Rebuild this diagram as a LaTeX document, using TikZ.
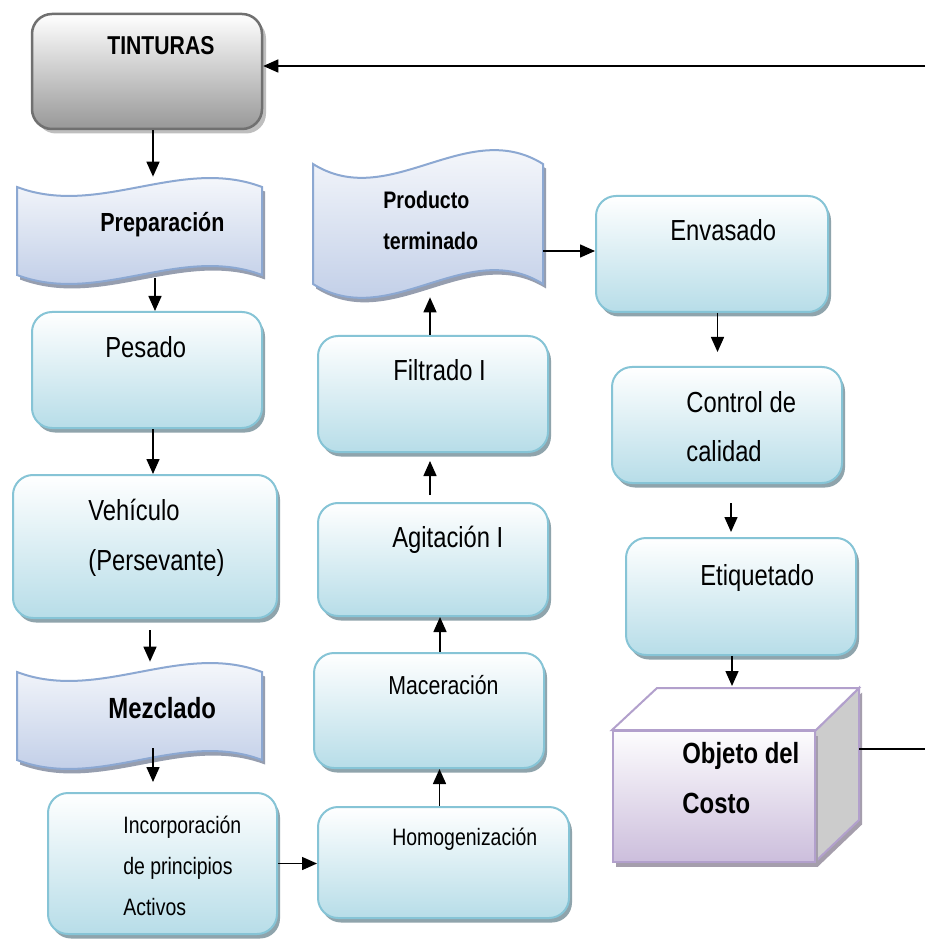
\documentclass[tikz,border=0pt]{standalone}
\usepackage{fontspec}
\setmainfont[FakeStretch=0.82]{Liberation Sans}
\usetikzlibrary{arrows.meta,shadows,fit}

\definecolor{boxline}{RGB}{134,196,214}
\definecolor{boxfill}{RGB}{183,221,232}
\definecolor{boxshad}{RGB}{143,164,172}
\definecolor{tapeline}{RGB}{140,168,210}
\definecolor{tapefill}{RGB}{184,199,228}
\definecolor{tapeshad}{RGB}{150,158,175}
\definecolor{greyline}{RGB}{112,112,112}
\definecolor{greyfill}{RGB}{152,152,152}
\definecolor{greyshad}{RGB}{190,190,190}
\definecolor{cubeline}{RGB}{178,160,204}
\definecolor{cubefill}{RGB}{204,190,220}
\definecolor{cubeside}{RGB}{204,204,204}
\definecolor{cubeshad}{RGB}{165,158,172}

\newcommand\fsbig{\fontsize{16.5}{19}\selectfont}
\newcommand\fsmid{\fontsize{14.8}{17}\selectfont}
\newcommand\fssmall{\fontsize{13.5}{16}\selectfont}

\tikzset{
  x=0.2mm, y=-0.2mm,
  procbox/.style={draw=boxline, line width=0.4mm, rounded corners=4mm,
    top color=white, bottom color=boxfill, inner sep=0pt,
    drop shadow={shadow xshift=0.6mm, shadow yshift=-0.9mm, fill=boxshad, opacity=1}},
  greybox/.style={draw=greyline, line width=0.5mm, rounded corners=4mm,
    top color=white, bottom color=greyfill, inner sep=0pt,
    drop shadow={shadow xshift=0.8mm, shadow yshift=-0.9mm, fill=greyshad, opacity=1}},
  tapeshape/.style={draw=tapeline, line width=0.4mm,
    top color=white, bottom color=tapefill,
    drop shadow={shadow xshift=0.6mm, shadow yshift=-0.9mm, fill=tapeshad, opacity=1}},
  area/.style={inner sep=0pt},
  lbl/.style={anchor=base west, inner sep=0pt, font=\fsbig},
  lblb/.style={anchor=base west, inner sep=0pt, font=\fsbig\bfseries},
  arr/.style={line width=0.3mm, -{Triangle[length=3mm,width=2.6mm]}},
  plain/.style={line width=0.3mm},
}

\begin{document}
\begin{tikzpicture}
\useasboundingbox[fill=white] (0,0) rectangle (925,940);

% ---- grey header ----
\node[greybox, fit={(32,14) (262,129)}] (tint) {};
\node[lblb, font=\fontsize{14.7}{17}\selectfont\bfseries] (tintT) at (107,55) {TINTURAS};

% ---- tape shapes ----
\path[tapeshape] (17,187) .. controls (98.7,218) and (180.3,156) .. (262,187)
  -- (262,275) .. controls (180.3,244) and (98.7,306) .. (17,275) -- cycle;
\node[area, fit={(17,177) (262,282)}] (prep) {};
\node[lblb, font=\fontsize{14.9}{17}\selectfont\bfseries] (prepT) at (100,232) {Preparación};

\path[tapeshape] (17,672) .. controls (98.7,703) and (180.3,641) .. (262,672)
  -- (262,760) .. controls (180.3,729) and (98.7,791) .. (17,760) -- cycle;
\node[area, fit={(17,662) (262,772)}] (mez) {};
\node[lblb, font=\fontsize{16.6}{19}\selectfont\bfseries] (mezT) at (108,718) {Mezclado};

\path[tapeshape] (313,164) .. controls (389.7,212) and (466.3,116) .. (543,164)
  -- (543,284) .. controls (466.3,236) and (389.7,332) .. (313,284) -- cycle;
\node[area, fit={(313,150) (543,297)}] (prod) {};
\node[lblb, font=\fontsize{13.6}{16}\selectfont\bfseries] (prodT1) at (383,209) {Producto};
\node[lblb, font=\fontsize{13.6}{16}\selectfont\bfseries] (prodT2) at (383,250) {terminado};

% ---- process boxes ----
\node[procbox, fit={(32,312) (262,428)}] (pes) {};
\node[lbl] (pesT) at (105,358) {Pesado};

\node[procbox, fit={(13,475) (277,618)}] (veh) {};
\node[lbl] (vehT1) at (88,520) {Vehículo};
\node[lbl] (vehT2) at (88,570) {(Persevante)};

\node[procbox, fit={(48,793) (277,934)}] (inc) {};
\node[lbl, font=\fssmall] (incT1) at (123,833) {Incorporación};
\node[lbl, font=\fssmall] (incT2) at (123,874) {de principios};
\node[lbl, font=\fssmall] (incT3) at (123,915) {Activos};

\node[procbox, fit={(318,807) (569,918)}] (hom) {};
\node[lbl, font=\fssmall] (homT) at (392,845) {Homogenización};

\node[procbox, fit={(314,653) (544,768)}] (mac) {};
\node[lbl, font=\fsmid] (macT) at (388,694) {Maceración};

\node[procbox, fit={(318,503) (548,616)}] (agi) {};
\node[lbl] (agiT) at (392,547) {Agitación I};

\node[procbox, fit={(318,336) (548,452)}] (fil) {};
\node[lbl] (filT) at (393,381) {Filtrado I};

\node[procbox, fit={(596,196) (828,312)}] (env) {};
\node[lbl] (envT) at (670,241) {Envasado};

\node[procbox, fit={(612,367) (842,483)}] (ctrl) {};
\node[lbl] (ctrlT1) at (686,412) {Control de};
\node[lbl] (ctrlT2) at (686,461) {calidad};

\node[procbox, fit={(626,538) (856,655)}] (eti) {};
\node[lbl] (etiT) at (700,585) {Etiquetado};

% ---- cost object (box drawn in perspective) ----
\path[fill=cubeside, draw=cubeline, line width=0.4mm,
  drop shadow={shadow xshift=0.6mm, shadow yshift=-0.9mm, fill=cubeshad, opacity=1}]
  (815,731) -- (859,688) -- (859,820) -- (815,862) -- cycle;
\node[draw=cubeline, line width=0.4mm, inner sep=0pt,
  top color=white!96!cubefill, bottom color=cubefill,
  drop shadow={shadow xshift=0.6mm, shadow yshift=-0.9mm, fill=cubeshad, opacity=1},
  fit={(613,731) (815,862)}] (cube) {};
\path[fill=white, draw=cubeline, line width=0.4mm]
  (cube.north west) -- (657,688) -- (859,688) -- (cube.north east) -- cycle;
\coordinate (cubetop) at (657,686);
\coordinate (cubeside) at (859,749);
\node[lblb, font=\fontsize{16.6}{19}\selectfont\bfseries] (cubeT1) at (682,763) {Objeto del};
\node[lblb, font=\fontsize{16.6}{19}\selectfont\bfseries] (cubeT2) at (682,813) {Costo};

% ---- connectors ----
\coordinate (inR) at (925,66);
\coordinate (outR) at (925,749);
\draw[arr] (inR) -- (inR -| tint.east);
\draw[plain] (cubeside) -- (outR);

\draw[arr] ([xshift=1.2mm]tint.south) -- ([xshift=1.2mm]tint.south |- prep.north);
\draw[arr] ([xshift=3.1mm,yshift=0.8mm]prep.south) -- ([xshift=3.1mm]prep.south |- pes.north);
\draw[arr] ([xshift=1.2mm]pes.south) -- ([xshift=1.2mm]pes.south |- veh.north);
\draw[arr, shorten <=2.2mm] ([xshift=1mm]veh.south) -- ([xshift=1mm]veh.south |- mez.north);
\draw[arr, shorten >=2mm] ([xshift=2.7mm,yshift=4.8mm]mez.south) -- ([xshift=2.7mm]mez.south |- inc.north);
\draw[arr] (inc.east) -- (inc.east -| hom.west);
\draw[arr] ([xshift=-0.8mm]hom.north) -- ([xshift=-0.8mm]hom.north |- mac.south);
\draw[arr] ([xshift=2.2mm]mac.north) -- ([xshift=2.2mm]mac.north |- agi.south);
\draw[arr, shorten <=1.4mm, shorten >=1.6mm] ([xshift=-0.6mm]agi.north) -- ([xshift=-0.6mm]agi.north |- fil.south);
\draw[arr] ([xshift=-0.6mm]fil.north) -- ([xshift=-0.6mm]fil.north |- prod.south);
\draw[arr] ([yshift=-5.5mm]prod.east) -- ([yshift=-5.5mm]prod.east -| env.west);
\draw[arr, shorten >=2.8mm] ([xshift=1.1mm]env.south) -- ([xshift=1.1mm]env.south |- ctrl.north);
\draw[arr, shorten <=3.8mm, shorten >=1mm] ([xshift=0.8mm]ctrl.south) -- ([xshift=0.8mm]ctrl.south |- eti.north);
\draw[arr] ([xshift=-1.8mm]eti.south) -- ([xshift=-1.8mm]eti.south |- cubetop);
\end{tikzpicture}
\end{document}
